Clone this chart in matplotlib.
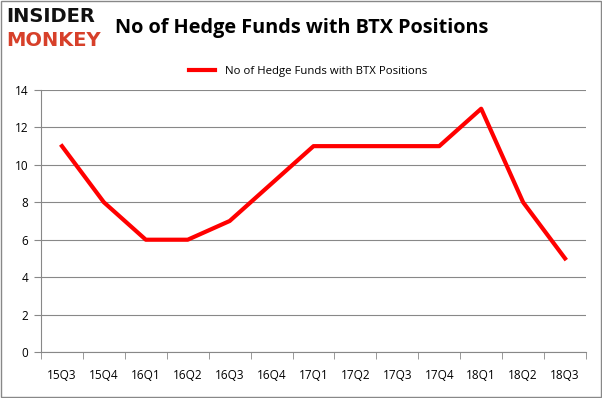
import matplotlib.pyplot as plt
from matplotlib.patches import Rectangle

quarters = ["15Q3", "15Q4", "16Q1", "16Q2", "16Q3", "16Q4", "17Q1",
            "17Q2", "17Q3", "17Q4", "18Q1", "18Q2", "18Q3"]
funds = [11, 8, 6, 6, 7, 9, 11, 11, 11, 11, 13, 8, 5]
series_name = "No of Hedge Funds with BTX Positions"
yticks = [0, 2, 4, 6, 8, 10, 12, 14]

plt.rcParams['font.family'] = ['Open Sans', 'DejaVu Sans']

fig = plt.figure(figsize=(6.02, 3.98), dpi=100)
W, H = 602, 398
ax = fig.add_axes([41 / W, 1 - 352 / H, (586 - 41) / W, (352 - 90) / H])

x = list(range(len(quarters)))
ax.plot(x, funds, color="#ff0000", linewidth=3, solid_joinstyle="round",
        label=series_name)

ax.set_xlim(-0.5, len(quarters) - 0.5)
ax.set_ylim(0, 14)
ax.set_yticks(yticks)
ax.set_xticks(x)
ax.set_xticklabels(quarters)
ax.set_xticks([i - 0.5 for i in range(len(quarters) + 1)], minor=True)
ax.tick_params(axis="x", which="major", length=0, pad=12, labelsize=8.5)
ax.tick_params(axis="x", which="minor", length=5, color="#888888")
ax.tick_params(axis="y", length=5, color="#888888", labelsize=8.5, pad=4)
ax.grid(axis="y", color="#888888", linewidth=0.8)
ax.set_axisbelow(True)
for s in ["top", "right"]:
    ax.spines[s].set_visible(False)
for s in ["left", "bottom"]:
    ax.spines[s].set_color("#888888")

ax.legend(loc="upper center", bbox_to_anchor=(0.49, 1.13), frameon=False,
          fontsize=8.2, handlelength=2.3)

# title and logo
fig.text(302 / W, 1 - 28 / H, "No of Hedge Funds with BTX Positions",
         ha="center", va="center", fontsize=14.3, fontweight="bold")
fig.text(6 / W, 1 - 17 / H, "INSIDER", ha="left", va="center",
         fontsize=14, fontweight="heavy", family="DejaVu Sans",
         color="#111111")
fig.text(6 / W, 1 - 40 / H, "MONKEY", ha="left", va="center",
         fontsize=14, fontweight="heavy", family="DejaVu Sans",
         color="#d7402a")

# outer border
fig.patches.append(Rectangle((0.002, 0.002), 0.996, 0.995, transform=fig.transFigure,
                             fill=False, edgecolor="#888888", linewidth=1))

fig.savefig("out.png", dpi=100)
